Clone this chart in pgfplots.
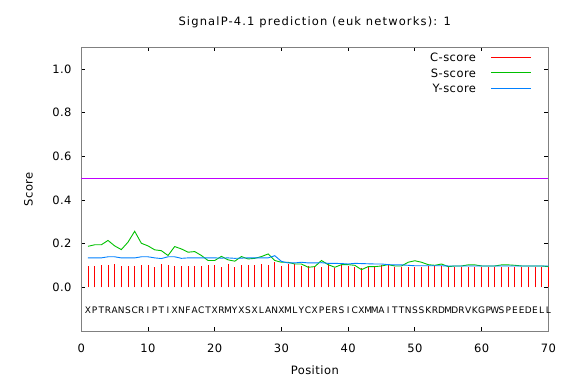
\documentclass[border=0pt]{standalone}
\usepackage{fontspec}
\setmainfont{DejaVu Sans}
\usepackage{pgfplots}
\pgfplotsset{compat=1.18}
\definecolor{sigred}{rgb}{1,0,0}
\definecolor{sigredleg}{rgb}{0.996,0.004,0.004}
\definecolor{siggreen}{rgb}{0,0.753,0}
\definecolor{sigblue}{rgb}{0,0.502,1}
\definecolor{sigcut}{rgb}{0.753,0,1}
\definecolor{sigframe}{rgb}{0.5,0.5,0.5}
\newcommand\tk{\fontsize{11.5}{13}\selectfont\addfontfeature{LetterSpace=4}}
\newcommand\ttl{\fontsize{11.5}{13}\selectfont\addfontfeature{LetterSpace=10}}
\newcommand\sq{\fontsize{9}{10}\selectfont}
\newcommand\sample[1]{\hspace{15pt}{\color{#1}\rule[3.8pt]{40pt}{1pt}}}
\begin{document}
\begin{tikzpicture}[x=1pt,y=1pt]
\path[use as bounding box] (0,0) rectangle (583,385);
\begin{axis}[
  at={(81.3pt,54pt)}, anchor=south west,
  scale only axis, width=467pt, height=283.7pt,
  xmin=0, xmax=70, ymin=-0.2, ymax=1.1,
  xtick={0,10,20,30,40,50,60,70},
  ytick={0,0.2,0.4,0.6,0.8,1.0},
  tick align=inside, major tick length=4pt,
  xtick pos=both, ytick pos=both,
  xticklabel pos=left, yticklabel pos=left,
  axis line style={sigframe, line width=0.8pt},
  tick style={black, line width=0.8pt},
  /pgf/number format/assume math mode=true,
  ticklabel style={font=\tk},
  xticklabel style={anchor=base, inner sep=0pt, yshift=-21.3pt},
  yticklabel style={anchor=east, inner sep=0pt, xshift=-9.6pt,
    /pgf/number format/fixed, /pgf/number format/fixed zerofill,
    /pgf/number format/precision=1},
  xlabel={Position},
  xlabel style={at={(axis description cs:0.5,-0.1526)}, anchor=base, font=\tk, inner sep=0pt},
  ylabel={Score},
  ylabel style={at={(axis description cs:-0.113,0.5)}, anchor=center, font=\tk, inner sep=0pt},
  clip=false,
  legend plot pos=none,
  legend cell align=right,
  legend style={draw=none, fill=none, at={(0.963,0.9789)}, anchor=north east,
    inner sep=0pt, outer sep=0pt, row sep=7.1pt,
    nodes={inner sep=0pt, font=\tk, text height=8.4pt, text depth=0pt}},
]
\node[font=\ttl, anchor=base, inner sep=0pt] at (rel axis cs:0.5,1.0761) {SignalP-4.1 prediction (euk networks): 1};
% C-score (impulses)
\addplot[sigred, ycomb, line width=0.9pt] coordinates {
(1,0.098) (2,0.098) (3,0.103) (4,0.103) (5,0.107) (6,0.098) (7,0.098) (8,0.098) (9,0.103) (10,0.103)
(11,0.095) (12,0.107) (13,0.103) (14,0.098) (15,0.098) (16,0.098) (17,0.098) (18,0.098) (19,0.103) (20,0.103)
(21,0.095) (22,0.107) (23,0.095) (24,0.103) (25,0.103) (26,0.103) (27,0.107) (28,0.103) (29,0.118) (30,0.098)
(31,0.107) (32,0.107) (33,0.098) (34,0.098) (35,0.098) (36,0.095) (37,0.107) (38,0.090) (39,0.101) (40,0.098)
(41,0.095) (42,0.090) (43,0.095) (44,0.095) (45,0.101) (46,0.101) (47,0.095) (48,0.095) (49,0.095) (50,0.095)
(51,0.095) (52,0.098) (53,0.098) (54,0.098) (55,0.095) (56,0.095) (57,0.095) (58,0.095) (59,0.095) (60,0.095)
(61,0.095) (62,0.095) (63,0.095) (64,0.095) (65,0.095) (66,0.095) (67,0.095) (68,0.095) (69,0.095) (70,0.095)
};
\addlegendentry{C-score\sample{sigredleg}}
% cutoff
\addplot[sigcut, line width=0.9pt, forget plot] coordinates {(0,0.5) (70,0.5)};
% S-score
\addplot[siggreen, line width=0.9pt] coordinates {
(1,0.188) (2,0.195) (3,0.195) (4,0.215) (5,0.190) (6,0.173) (7,0.207) (8,0.257) (9,0.202) (10,0.190)
(11,0.172) (12,0.168) (13,0.146) (14,0.187) (15,0.176) (16,0.161) (17,0.164) (18,0.146) (19,0.123) (20,0.123)
(21,0.142) (22,0.126) (23,0.120) (24,0.141) (25,0.130) (26,0.133) (27,0.141) (28,0.153) (29,0.123) (30,0.115)
(31,0.115) (32,0.107) (33,0.107) (34,0.092) (35,0.095) (36,0.123) (37,0.104) (38,0.092) (39,0.104) (40,0.104)
(41,0.101) (42,0.081) (43,0.095) (44,0.095) (45,0.098) (46,0.104) (47,0.098) (48,0.098) (49,0.115) (50,0.122)
(51,0.115) (52,0.104) (53,0.101) (54,0.107) (55,0.095) (56,0.098) (57,0.098) (58,0.103) (59,0.103) (60,0.098)
(61,0.098) (62,0.098) (63,0.103) (64,0.103) (65,0.101) (66,0.098) (67,0.098) (68,0.098) (69,0.098) (70,0.095)
};
\addlegendentry{S-score\sample{siggreen}}
% Y-score
\addplot[sigblue, line width=0.9pt] coordinates {
(1,0.135) (2,0.135) (3,0.135) (4,0.140) (5,0.140) (6,0.135) (7,0.135) (8,0.135) (9,0.140) (10,0.140)
(11,0.135) (12,0.132) (13,0.140) (14,0.140) (15,0.133) (16,0.135) (17,0.135) (18,0.135) (19,0.135) (20,0.135)
(21,0.134) (22,0.135) (23,0.133) (24,0.134) (25,0.135) (26,0.135) (27,0.135) (28,0.135) (29,0.145) (30,0.119)
(31,0.112) (32,0.112) (33,0.115) (34,0.112) (35,0.112) (36,0.113) (37,0.110) (38,0.110) (39,0.109) (40,0.107)
(41,0.110) (42,0.109) (43,0.108) (44,0.107) (45,0.107) (46,0.104) (47,0.103) (48,0.103) (49,0.101) (50,0.099)
(51,0.099) (52,0.099) (53,0.099) (54,0.099) (55,0.098) (56,0.098) (57,0.098) (58,0.098) (59,0.098) (60,0.098)
(61,0.098) (62,0.098) (63,0.098) (64,0.098) (65,0.098) (66,0.098) (67,0.098) (68,0.098) (69,0.098) (70,0.098)
};
\addlegendentry{Y-score\sample{sigblue}}
\end{axis}
% sequence letters along the residue positions
\begin{axis}[
  at={(81.3pt,54pt)}, anchor=south west,
  scale only axis, width=467pt, height=283.7pt,
  xmin=0, xmax=70, ymin=-0.2, ymax=1.1,
  axis line style={draw=none}, ytick=\empty,
  tick style={draw=none}, major tick length=0pt,
  xtick={1,2,3,4,5,6,7,8,9,10,11,12,13,14,15,16,17,18,19,20,21,22,23,24,25,26,27,28,29,30,31,32,33,34,35,36,37,38,39,40,41,42,43,44,45,46,47,48,49,50,51,52,53,54,55,56,57,58,59,60,61,62,63,64,65,66,67,68,69,70},
  xticklabels={X,P,T,R,A,N,S,C,R,I,P,T,I,X,N,F,A,C,T,X,R,M,Y,X,S,X,L,A,N,X,M,L,Y,C,X,P,E,R,S,I,C,X,M,M,A,I,T,T,N,S,S,K,R,D,M,D,R,V,K,G,P,W,S,P,E,E,D,E,L,L},
  xticklabel style={font=\sq, anchor=base, inner sep=0pt, yshift=17.7pt},
]
\end{axis}
\end{tikzpicture}
\end{document}
